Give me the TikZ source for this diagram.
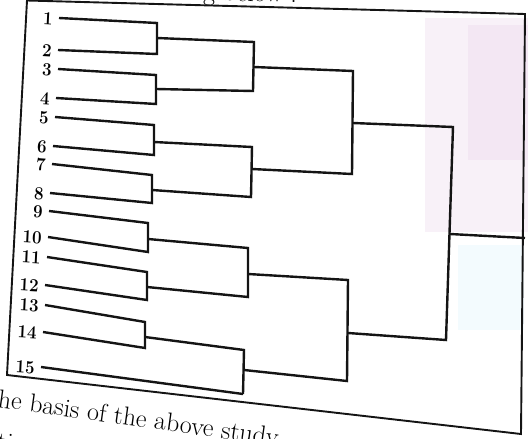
\documentclass[tikz,border=0pt]{standalone}
\usetikzlibrary{calc}
\begin{document}
\begin{tikzpicture}[x=1pt,y=-1pt,
  tree/.style={line width=2.4pt,draw=black!92,line join=miter},
  frameline/.style={line width=1.9pt,draw=black!92},
  leaflabel/.style={anchor=east,inner sep=0pt,font=\fontsize{18.5}{18.5}\selectfont\bfseries,xscale=0.92,rotate=-3},
  pagetext/.style={inner sep=0pt,font=\fontsize{26}{26}\selectfont}]
\useasboundingbox (0,0) rectangle (528,439);
\clip (0,0) rectangle (528,439);
% photo tints
\fill[violet!35,opacity=0.16] (425,18) rectangle (528,232);
\fill[violet!30,opacity=0.16] (468,25) rectangle (528,160);
\fill[cyan!30,opacity=0.16] (458,245) rectangle (524,330);
% cut text of the page
\node[pagetext,anchor=base west,rotate=-1] (toptext) at (203,0.5) {g below :};
\node[pagetext,anchor=base west,rotate=-8] (bottext) at (-3,407) {he basis of the above study};
\node[pagetext,anchor=base west,rotate=-8] (bottext2) at (-4,449) {tions};
% frame
\coordinate (ftl) at (27,0.5);
\coordinate (ftr) at (525,14);
\coordinate (fbr) at (521,434);
\coordinate (fbl) at (7,375);
\draw[frameline] (ftl) -- (ftr) -- (fbr) -- (fbl) -- cycle;
% leaves: start and end
\foreach \n/\xs/\ys/\xe/\ye in {1/59/18/157/23, 2/58/50/157/54, 3/58/69/156/75, 4/56/98/156/104,
  5/55/117/154/125, 6/53/146/154/155, 7/52/164/152/175, 8/50/193/152/203,
  9/49/211/148/223, 10/48/237/148/252, 11/47/257/147/272, 12/45/285/147/300,
  13/45/305/145/322, 14/43/332/145/348, 15/41/367/243/394}{
  \coordinate (s\n) at (\xs,\ys);
  \coordinate (e\n) at (\xe,\ye);
  \node[leaflabel] (lab\n) at ($(s\n)+(-6,1)$) {\n};
}
% junction coordinates
\coordinate (m12) at (157,38);  \coordinate (j12) at (254,42);
\coordinate (m34) at (156,89);  \coordinate (j34) at (253,91);
\coordinate (m56) at (154,142); \coordinate (j56) at (252,147);
\coordinate (m78) at (152,190); \coordinate (j78) at (251,197);
\coordinate (m910) at (148,239); \coordinate (j910) at (248,248);
\coordinate (m1112) at (147,287); \coordinate (j1112) at (248,297);
\coordinate (m1314) at (145,337); \coordinate (j1314) at (244,350);
\coordinate (m14) at (254,67);  \coordinate (k14) at (353,71);
\coordinate (m58) at (252,169); \coordinate (k58) at (352,174);
\coordinate (m912) at (248,274); \coordinate (k912) at (348,280);
\coordinate (m1315) at (244,370); \coordinate (k1315) at (347,381);
\coordinate (m18) at (353,123); \coordinate (r18) at (453,127);
\coordinate (m915) at (348,333); \coordinate (r915) at (446,340);
\coordinate (mroot) at (450,234); \coordinate (root) at (525,238);
% pairs
\draw[tree] (s1) -- (e1) -- (e2) -- (s2);
\draw[tree] (s3) -- (e3) -- (e4) -- (s4);
\draw[tree] (s5) -- (e5) -- (e6) -- (s6);
\draw[tree] (s7) -- (e7) -- (e8) -- (s8);
\draw[tree] (s9) -- (e9) -- (e10) -- (s10);
\draw[tree] (s11) -- (e11) -- (e12) -- (s12);
\draw[tree] (s13) -- (e13) -- (e14) -- (s14);
\draw[tree] (s15) -- (e15);
% level 2
\draw[tree] (m12) -- (j12) -- (j34) -- (m34);
\draw[tree] (m56) -- (j56) -- (j78) -- (m78);
\draw[tree] (m910) -- (j910) -- (j1112) -- (m1112);
\draw[tree] (m1314) -- (j1314) -- (e15);
% level 3
\draw[tree] (m14) -- (k14) -- (k58) -- (m58);
\draw[tree] (m912) -- (k912) -- (k1315) -- (m1315);
% level 4
\draw[tree] (m18) -- (r18) -- (r915) -- (m915);
% root
\draw[tree] (mroot) -- (root);
\end{tikzpicture}
\end{document}
